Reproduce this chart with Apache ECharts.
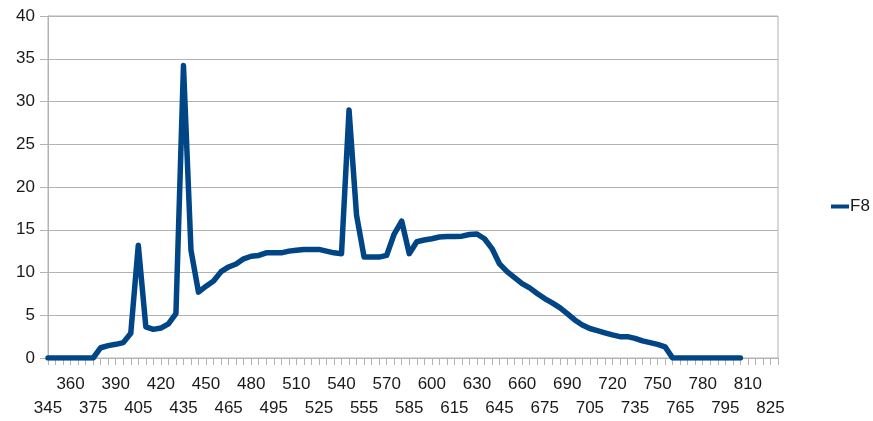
<!DOCTYPE html>
<html>
<head>
<meta charset="utf-8">
<script src="https://cdn.jsdelivr.net/npm/echarts@6/dist/echarts.min.js"></script>
<style>
  html, body { margin: 0; padding: 0; background: #fff; }
  #chart { width: 873px; height: 421px; }
</style>
</head>
<body>
<div id="chart"></div>
<script>
// Wavelengths (nm) at 5 nm steps
const wavelengths = [];
for (let w = 345; w <= 805; w += 5) wavelengths.push(w);

// F8 relative spectral power (345 ... 805 nm)
const f8Values = [
  0, 0, 0, 0, 0, 0, 0,                         // 345-375
  1.2, 1.45, 1.6, 1.8, 2.9,                    // 380-400
  13.2, 3.65, 3.35, 3.5, 4.0, 5.2,             // 405-430
  34.2, 12.6, 7.7, 8.4, 9.0, 10.1, 10.65,      // 435-465
  11.0, 11.6, 11.9, 12.0, 12.3, 12.3, 12.3,    // 470-500
  12.5, 12.6, 12.7, 12.7, 12.7, 12.5, 12.3,    // 505-535
  12.2, 29.0, 16.7, 11.8, 11.8, 11.8, 12.0,    // 540-570
  14.5, 16.0, 12.2, 13.6, 13.8, 13.95, 14.15,  // 575-605
  14.2, 14.2, 14.25, 14.45, 14.5, 13.95, 12.8, // 610-640
  11.0, 10.1, 9.4, 8.7, 8.2, 7.55, 6.95,       // 645-675
  6.45, 5.9, 5.2, 4.45, 3.85, 3.45, 3.2,       // 680-710
  2.95, 2.7, 2.5, 2.5, 2.3, 2.0, 1.8,          // 715-745
  1.6, 1.3, 0,                                 // 750-760
  0, 0, 0, 0, 0, 0, 0, 0, 0                    // 765-805
];

const seriesName = 'F8';
const yTicks = { min: 0, max: 40, step: 5 };
const xRange = { min: 345, max: 830, step: 5, labelStep: 15 };

const chart = echarts.init(document.getElementById('chart'), null, { renderer: 'canvas' });
const gray = '#b3b3b3';
const textColor = '#1a1a1a';
const font = "'Liberation Sans', Arial, sans-serif";

chart.setOption({
  animation: false,
  backgroundColor: '#ffffff',
  grid: {
    left: 48, right: 95, top: 16, bottom: 63,
    show: true, borderColor: gray, borderWidth: 1, backgroundColor: 'transparent'
  },
  legend: {
    data: [seriesName],
    left: 826, top: 193,
    icon: 'rect',
    itemWidth: 18, itemHeight: 4,
    itemGap: 0,
    textStyle: { color: textColor, fontSize: 17, fontFamily: font, padding: [0, 0, 0, -4] }
  },
  xAxis: {
    type: 'value',
    min: xRange.min, max: xRange.max, interval: xRange.step,
    axisLine: { show: true, lineStyle: { color: gray, width: 1 } },
    axisTick: { show: true, length: 7, lineStyle: { color: gray } },
    splitLine: { show: false },
    axisLabel: {
      color: textColor, fontSize: 17, fontFamily: font,
      margin: 14, lineHeight: 24,
      showMinLabel: true, showMaxLabel: true,
      formatter: function (v) {
        const d = v - xRange.min;
        if (d % xRange.labelStep !== 0) return '';
        const k = d / xRange.labelStep;
        return (k % 2 === 0) ? '\n' + v : String(v);
      }
    }
  },
  yAxis: {
    type: 'value',
    min: yTicks.min, max: yTicks.max, interval: yTicks.step,
    axisLine: { show: true, lineStyle: { color: gray, width: 1 } },
    axisTick: { show: true, length: 8, lineStyle: { color: gray } },
    splitLine: { show: true, lineStyle: { color: gray, width: 1 } },
    axisLabel: { color: textColor, fontSize: 17, fontFamily: font, margin: 13 }
  },
  series: [{
    name: seriesName,
    type: 'line',
    data: wavelengths.map((w, i) => [w, f8Values[i]]),
    symbol: 'none',
    color: '#004586',
    lineStyle: { color: '#004586', width: 5.5, join: 'round', cap: 'round' }
  }]
});
</script>
</body>
</html>
